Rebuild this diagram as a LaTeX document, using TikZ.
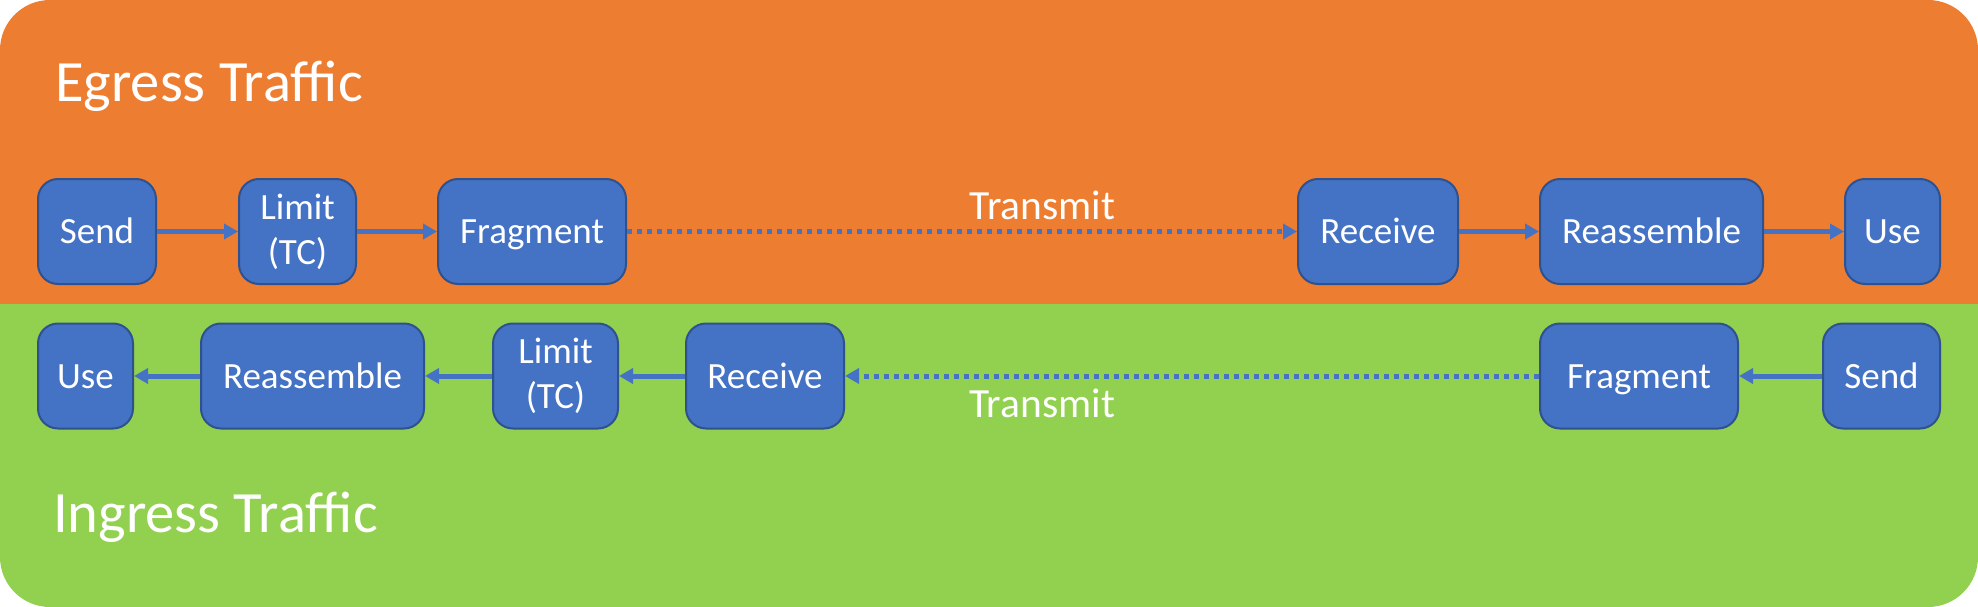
\documentclass[tikz,border=0pt]{standalone}
\usepackage{fontspec}
\setmainfont{Carlito}
\usetikzlibrary{arrows.meta}

\definecolor{egressorange}{HTML}{ED7D31}
\definecolor{ingressgreen}{HTML}{92D050}
\definecolor{stepblue}{HTML}{4472C4}
\definecolor{stepedge}{HTML}{2F528F}

\begin{document}
\begin{tikzpicture}[x=1pt,y=-1pt,>={Triangle[length=14pt,width=15pt]},
	stepbox/.style={draw=stepedge,fill=stepblue,line width=2pt,rounded corners=20pt,
		text=white,align=center,inner sep=0pt,minimum height=105pt,
		text height=24pt,text depth=0pt,font=\fontsize{37}{45}\selectfont},
	twoline/.style={text height=,text depth=},
	flow/.style={->,draw=stepblue,line width=5pt},
	wire/.style={flow,dash pattern=on 5pt off 5pt},
	title/.style={anchor=base west,inner sep=0pt,text=white,font=\fontsize{58.5}{62}\selectfont},
	wirelabel/.style={anchor=base,inner sep=0pt,text=white,font=\fontsize{41.5}{45}\selectfont}]
	
	\useasboundingbox (0,0) rectangle (1978,607);
	
	% Draw the two bands
	\begin{scope}
		\clip[rounded corners=50pt] (0,0) rectangle (1978,607);
		\fill[egressorange] (0,0) rectangle (1978,304);
		\fill[ingressgreen] (0,304) rectangle (1978,607);
	\end{scope}
	
	\node[title] (egress) at (55,102) {Egress Traffic};
	\node[title] (ingress) at (53,532) {Ingress Traffic};
	
	% Draw the egress steps
	\node[stepbox,minimum width=118pt] (eSend) at (97,231.5) {Send};
	\node[stepbox,twoline,minimum width=117pt] (eLimit) at (297.5,231.5) {Limit\\(TC)};
	\node[stepbox,minimum width=188pt] (eFrag) at (532,231.5) {Fragment};
	\node[stepbox,minimum width=160pt] (eRecv) at (1378,231.5) {Receive};
	\node[stepbox,minimum width=223pt] (eReas) at (1651.5,231.5) {Reassemble};
	\node[stepbox,minimum width=95pt] (eUse) at (1892.5,231.5) {Use};
	
	\draw[flow] (eSend) -- (eLimit);
	\draw[flow] (eLimit) -- (eFrag);
	\draw[wire] (eFrag) -- node[wirelabel,pos=0.62,yshift=12pt] (eTx) {Transmit} (eRecv);
	\draw[flow] (eRecv) -- (eReas);
	\draw[flow] (eReas) -- (eUse);
	
	% Draw the ingress steps
	\node[stepbox,minimum width=95pt] (iUse) at (85.5,376) {Use};
	\node[stepbox,minimum width=223pt] (iReas) at (312.5,376) {Reassemble};
	\node[stepbox,twoline,minimum width=125pt] (iLimit) at (555.5,376) {Limit\\(TC)};
	\node[stepbox,minimum width=158pt] (iRecv) at (765,376) {Receive};
	\node[stepbox,minimum width=198pt] (iFrag) at (1639,376) {Fragment};
	\node[stepbox,minimum width=117pt] (iSend) at (1881.5,376) {Send};
	
	\draw[flow] (iSend) -- (iFrag);
	\draw[wire] (iFrag) -- node[wirelabel,pos=0.716,yshift=-41pt] (iTx) {Transmit} (iRecv);
	\draw[flow] (iRecv) -- (iLimit);
	\draw[flow] (iLimit) -- (iReas);
	\draw[flow] (iReas) -- (iUse);

\end{tikzpicture}
\end{document}
